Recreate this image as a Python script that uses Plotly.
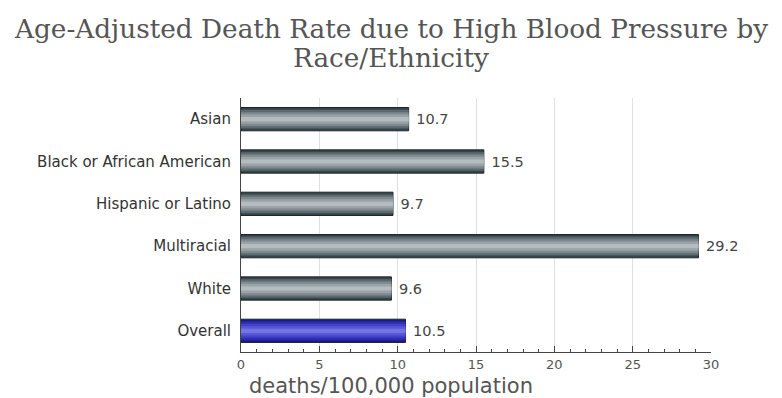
import plotly.graph_objects as go

categories = ["Asian", "Black or African American", "Hispanic or Latino", "Multiracial", "White", "Overall"]
values = [10.7, 15.5, 9.7, 29.2, 9.6, 10.5]
value_labels = ["10.7", "15.5", "9.7", "29.2", "9.6", "10.5"]
tick_vals = [0, 5, 10, 15, 20, 25, 30]

title_lines = ["Age-Adjusted Death Rate due to High Blood Pressure by", "Race/Ethnicity"]
x_title = "deaths/100,000 population"

gray_layers = ["#36454a", "#5c6a6f", "#7d898d", "#9aa4a8", "#b4bcbf"]
blue_layers = ["#1a1a8a", "#2e2eb0", "#4242c8", "#5858d6", "#7474e2"]
widths = [0.55, 0.44, 0.33, 0.22, 0.10]

fig = go.Figure()
for i, (w, g, b) in enumerate(zip(widths, gray_layers, blue_layers)):
    colors = [b if c == "Overall" else g for c in categories]
    first = i == 0
    fig.add_trace(go.Bar(
        y=categories, x=values, orientation="h", width=w,
        marker=dict(color=colors,
                    line=dict(color="#1c2426" if first else "rgba(0,0,0,0)", width=1 if first else 0)),
        text=value_labels if first else None,
        texttemplate=" %{text}" if first else None,
        textposition="outside" if first else "none",
        textfont=dict(family="DejaVu Sans, Verdana", size=14.5, color="#444444"),
        cliponaxis=False, hoverinfo="skip", showlegend=False,
    ))

# figure is offset by the 8px default page margin, so size it to fit the window
annotations = []
for txt, ypos in zip(title_lines, [1.272, 1.157]):
    annotations.append(dict(text=txt, xref="paper", yref="paper", x=0.319, y=ypos,
                            xanchor="center", yanchor="middle", showarrow=False,
                            font=dict(family="DejaVu Serif", size=26.3, color="#555555")))
annotations.append(dict(text=x_title, xref="paper", yref="paper", x=0.319, y=-0.134,
                        xanchor="center", yanchor="middle", showarrow=False,
                        font=dict(family="DejaVu Sans, Verdana", size=21, color="#555555")))

fig.update_layout(
    width=774, height=390,
    barmode="overlay",
    paper_bgcolor="white", plot_bgcolor="white",
    margin=dict(l=233, r=71, t=90, b=46),
    xaxis=dict(range=[0, 30], tickvals=tick_vals, showgrid=True, gridcolor="#e0e0e0", gridwidth=1,
               zeroline=False, showline=True, linecolor="#444444", linewidth=1,
               ticks="inside", ticklen=6, tickcolor="#444444",
               minor=dict(dtick=1, ticks="inside", ticklen=3, tickcolor="#444444"),
               tickfont=dict(family="DejaVu Sans, Verdana", size=13, color="#555555"),
               fixedrange=True),
    yaxis=dict(autorange="reversed", showline=True, linecolor="#444444", linewidth=1,
               ticks="", ticklabelstandoff=6,
               tickfont=dict(family="DejaVu Sans, Verdana", size=15, color="#333333"),
               fixedrange=True),
    annotations=annotations,
)

fig.write_html("out.html")
